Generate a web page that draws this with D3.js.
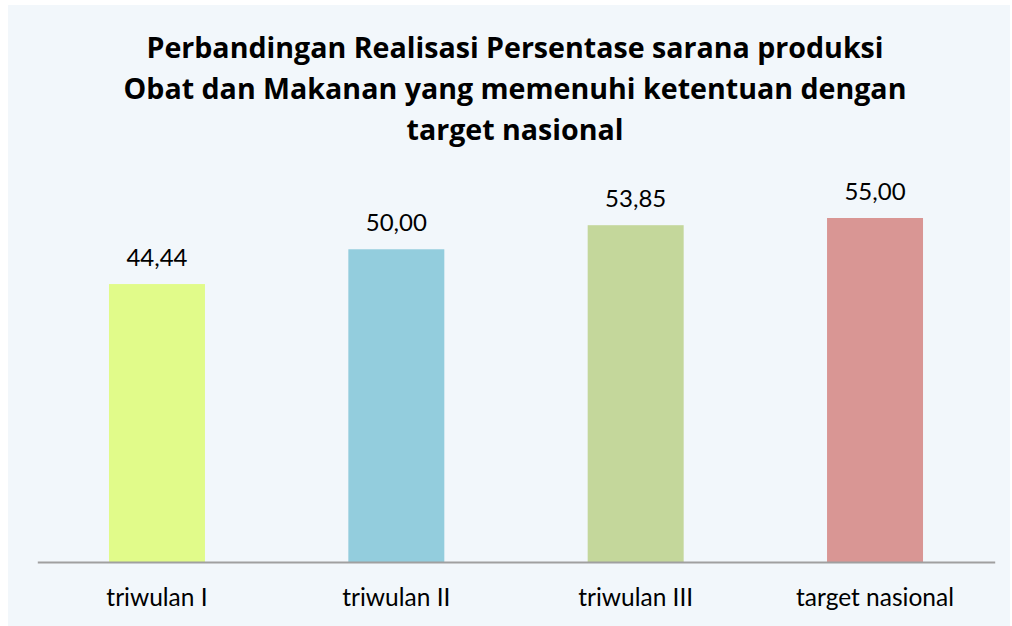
<!DOCTYPE html>
<html>
<head>
<meta charset="utf-8">
<script src="https://cdn.jsdelivr.net/npm/d3@7"></script>
<style>
  html, body { margin: 0; padding: 0; background: #ffffff; }
  svg { display: block; }
  text { font-family: Lato, "Open Sans", sans-serif; }
</style>
</head>
<body>
<svg id="chart" width="1012" height="626"></svg>
<script>
const categories = ["triwulan I", "triwulan II", "triwulan III", "target nasional"];
const values = [44.44, 50.00, 53.85, 55.00];
const valueLabels = ["44,44", "50,00", "53,85", "55,00"];
const barColors = ["#E1FB8A", "#93CDDD", "#C4D79B", "#D99694"];
const titleLines = [
  "Perbandingan Realisasi Persentase sarana produksi",
  "Obat dan Makanan yang memenuhi ketentuan dengan",
  "target nasional"
];

const W = 1012, H = 626;
const svg = d3.select("#chart");

svg.append("rect")
  .attr("x", 8).attr("y", 5).attr("width", 1002).attr("height", H - 5)
  .attr("fill", "#F2F7FB");

const baseY = 562;
const x = d3.scaleBand().domain(categories).range([37.3, 994.7]).paddingInner(0.599).paddingOuter(0.2995);
const y = d3.scaleLinear().domain([0, 60]).range([baseY, baseY - 60 * 6.2545]);

svg.append("g").selectAll("rect").data(values).join("rect")
  .attr("x", (d, i) => x(categories[i]))
  .attr("y", d => y(d))
  .attr("width", x.bandwidth())
  .attr("height", d => y(0) - y(d))
  .attr("fill", (d, i) => barColors[i]);

svg.append("g").selectAll("text").data(values).join("text")
  .attr("x", (d, i) => x(categories[i]) + x.bandwidth() / 2)
  .attr("y", d => y(d) - 18)
  .attr("text-anchor", "middle")
  .attr("font-size", 24)
  .attr("fill", "#000")
  .text((d, i) => valueLabels[i]);

const xAxis = d3.axisBottom(x).tickSize(0).tickPadding(0);
const gx = svg.append("g").attr("transform", `translate(0,${baseY})`).call(xAxis);
gx.select(".domain").attr("stroke", "#A0A0A0").attr("stroke-width", 2);
gx.selectAll(".tick text")
  .style("font-family", "Lato, sans-serif")
  .attr("font-size", 24.5)
  .attr("fill", "#000")
  .attr("dy", null)
  .attr("y", 44);

svg.append("g").selectAll("text").data(titleLines).join("text")
  .attr("x", 515)
  .attr("y", (d, i) => 58 + i * 41)
  .attr("text-anchor", "middle")
  .style("font-family", "'Open Sans', sans-serif")
  .attr("font-size", 28.6)
  .attr("font-weight", "bold")
  .attr("fill", "#000")
  .text(d => d);
</script>
</body>
</html>
